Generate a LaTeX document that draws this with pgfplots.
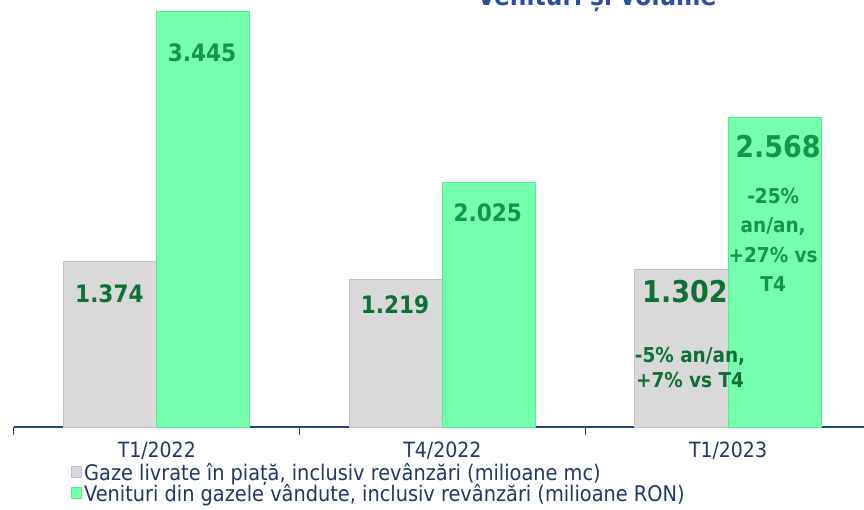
\documentclass[border=0pt]{standalone}
\usepackage{pgfplots}
\pgfplotsset{compat=1.18}
\usepackage{fontspec}
\setmainfont{DejaVu Sans Condensed}
\definecolor{greyfill}{RGB}{217,217,217}
\definecolor{greyedge}{RGB}{200,190,220}
\definecolor{greenfill}{RGB}{117,255,174}
\definecolor{greenedge}{RGB}{80,240,140}
\definecolor{axisblue}{RGB}{31,73,125}
\definecolor{navy}{RGB}{31,56,100}
\definecolor{titleblue}{RGB}{44,78,155}
\definecolor{darkgreen}{RGB}{14,112,52}
\definecolor{midgreen}{RGB}{18,150,72}
\begin{document}
\begin{tikzpicture}
\begin{axis}[
  scale only axis,
  width=850pt, height=427pt,
  xmin=-0.5, xmax=2.476,
  ymin=0, ymax=3.538,
  ybar=0pt, bar width=0.326,
  axis x line=bottom, axis y line=none,
  axis line style={-, draw=axisblue, line width=1.2pt},
  xtick={-0.5,0.5,1.5}, xticklabels={},
  tick align=outside,
  major tick length=8pt,
  tick style={draw=axisblue, line width=1pt},
  extra x ticks={0,1,2},
  extra x tick labels={T1/2022,T4/2022,T1/2023},
  extra x tick style={major tick length=0pt, xticklabel style={font=\fontsize{21}{24}\selectfont, text=navy, yshift=-11pt}},
  ytick=\empty,
  clip=false,
  legend style={at={(axis description cs:0.0665,-0.0835)}, anchor=north west, draw=none, fill=none,
    inner sep=0pt,
    font=\fontsize{21.5}{24}\selectfont, text=navy, legend cell align=left,
    row sep=2.5pt, nodes={inner xsep=2.5pt, inner ysep=0pt}},
]
\addplot[fill=greyfill, draw=greyedge, line width=1pt,
  legend image code/.code={\draw[fill=greyfill, draw=greyedge, line width=1pt] (0pt,-5pt) rectangle (10pt,6pt);}]
  coordinates {(0,1.374) (1,1.219) (2,1.302)};
\addplot[fill=greenfill, draw=greenedge, line width=1pt,
  legend image code/.code={\draw[fill=greenfill, draw=greenedge, line width=1pt] (0pt,-5pt) rectangle (10pt,6pt);}]
  coordinates {(0,3.445) (1,2.025) (2,2.568)};
\legend{{Gaze livrate în piață, inclusiv revânzări (milioane mc)},{Venituri din gazele vândute, inclusiv revânzări (milioane RON)}}
% value labels
\node[font=\bfseries\fontsize{24}{28}\selectfont, text=darkgreen] at (axis cs:-0.166,1.102) {1.374};
\node[font=\bfseries\fontsize{24}{28}\selectfont, text=midgreen] at (axis cs:0.158,3.099) {3.445};
\node[font=\bfseries\fontsize{24}{28}\selectfont, text=darkgreen] at (axis cs:0.834,1.011) {1.219};
\node[font=\bfseries\fontsize{24}{28}\selectfont, text=midgreen] at (axis cs:1.159,1.773) {2.025};
\node[font=\bfseries\fontsize{30}{34}\selectfont, text=darkgreen] at (axis cs:1.849,1.118) {1.302};
\node[font=\bfseries\fontsize{30}{34}\selectfont, text=midgreen] at (axis cs:2.175,2.320) {2.568};
\node[font=\bfseries\fontsize{20.5}{29.5}\selectfont, text=midgreen, align=center] at (axis cs:2.158,1.549) {-25\%\\an/an,\\+27\% vs\\T4};
\node[font=\bfseries\fontsize{20.5}{25}\selectfont, text=darkgreen, align=center] at (axis cs:1.867,0.493) {-5\% an/an,\\+7\% vs T4};
% title (cut at top, as in the source)
\node[font=\bfseries\fontsize{26}{30}\selectfont, text=titleblue, anchor=base] at (axis cs:1.541,3.496) {Venituri și volume};
\end{axis}
\pgfresetboundingbox
\path[use as bounding box] ([xshift=-14pt,yshift=-82pt]current axis.south west) rectangle (current axis.north east);
\end{tikzpicture}
\end{document}
